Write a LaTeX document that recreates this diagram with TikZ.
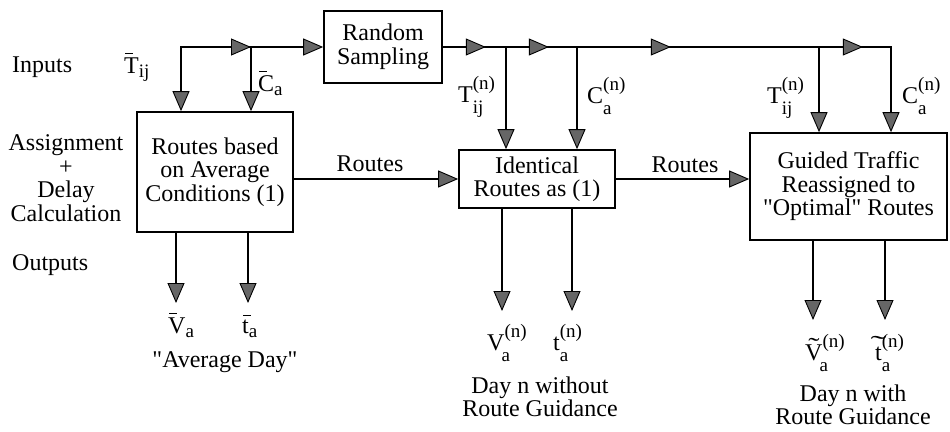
\documentclass[tikz,border=0pt]{standalone}
\usepackage{fontspec}
\setmainfont{Liberation Serif}[Ligatures=TeXOff]
\usepackage{graphicx}
\usetikzlibrary{arrows.meta,decorations.markings}

\newcommand\scr{\fontsize{19}{19}\selectfont}
\newcommand\subsup[4][0pt]{#2{\scr\rlap{\raisebox{13pt}{#4}}\kern#1\raisebox{-11pt}{#3}}}
\newcommand\lowsub[2]{#1{\fontsize{19}{19}\selectfont\raisebox{-4pt}{#2}}}
\newcommand\barover[1]{\setbox0\hbox{#1}\rlap{\kern1pt\raisebox{\dimexpr\ht0+3pt\relax}{\rule{8pt}{1pt}}}\box0}
\newcommand\tildeover[3]{\setbox0\hbox{#3}\rlap{\hbox to\wd0{\hss\raisebox{#1}{\scalebox{#2}[1]{\char"02DC}}\hss}}\box0}

\tikzset{
  arr/.tip={Triangle[length=20pt,width=17pt,fill=black!60,line width=0.9pt]},
  conn/.style={line width=1.9pt},
  blk/.style={draw,line width=1.7pt,inner sep=0pt,align=center},
}

\begin{document}
\begin{tikzpicture}[x=1pt,y=-1pt,
  every node/.style={font=\fontsize{24}{23.5}\selectfont,inner sep=0pt}]
\useasboundingbox (0,0) rectangle (950,431);

% boxes
\node[blk,minimum width=118pt,minimum height=72pt] (rs) at (383,47) {Random\\Sampling};
\node[blk,minimum width=156pt,minimum height=120pt] (bx1) at (215,172) {Routes based\\on Average\\Conditions (1)};
\node[blk,minimum width=156pt,minimum height=58pt] (bx2) at (537,179) {Identical\\Routes as (1)};
\node[blk,minimum width=197pt,minimum height=107pt] (bx3) at (848.5,186.5) {Guided Traffic\\Reassigned to\\"Optimal" Routes};

% left labels
\node[anchor=base west] (inp) at (12,72) {Inputs};
\node[align=center] (asg) at (66,178) {Assignment\\+\\Delay\\Calculation};
\node[anchor=base west] (outp) at (12,270) {Outputs};

% input labels
\node[anchor=base west] (tbar) at (124,73) {\lowsub{\barover{T}}{ij}};
\node[anchor=base west] (cbar) at (258,91) {\lowsub{\barover{C}}{a}};
\node[anchor=base west] (tn2) at (458,102) {\subsup{T}{ij}{(n)}};
\node[anchor=base west] (cn2) at (587,103) {\subsup{C}{a}{(n)}};
\node[anchor=base west] (tn3) at (767,103) {\subsup{T}{ij}{(n)}};
\node[anchor=base west] (cn3) at (902,103) {\subsup{C}{a}{(n)}};

% output labels
\node[anchor=base west] (vbar) at (168,333) {\lowsub{\barover{V}}{a}};
\node[anchor=base west] (tbar2) at (242,333) {\lowsub{\barover{t}}{a}};
\node[anchor=base] (avg) at (225,367) {"Average Day"};
\node[anchor=base west] (vn) at (487,350) {\subsup[-3pt]{V}{a}{(n)}};
\node[anchor=base west] (tn) at (553,350) {\subsup{t}{a}{(n)}};
\node[align=center] (d1) at (540,397) {Day n without\\Route Guidance};
\node[anchor=base west] (vt) at (805,360) {\subsup[-3pt]{\tildeover{6pt}{1.4}{V}}{a}{(n)}};
\node[anchor=base west] (tt) at (875,360) {\subsup{\tildeover{8pt}{2}{t}}{a}{(n)}};
\node[align=center] (d2) at (853,405) {Day n with\\Route Guidance};

% top-left junctions
\coordinate (jT) at (181,47);
\coordinate (jC) at (251,47);
\draw[conn,-arr] (jC) -- (jT) -- (jT |- bx1.north);
\draw[conn,-arr] (jT) -- (jC);
\draw[conn,-arr] (jC) -- (jC |- bx1.north);
\draw[conn,-arr] (jC) -- (rs.west);

% top-right line
\coordinate (k1) at (506,47);
\coordinate (k2) at (577,47);
\coordinate (k3) at (819,47);
\coordinate (k4) at (891,47);
\draw[conn,-arr,postaction={decorate},decoration={markings,
  mark=at position 43pt with {\arrow{arr}},
  mark=at position 106pt with {\arrow{arr}},
  mark=at position 228pt with {\arrow{arr}},
  mark=at position 420pt with {\arrow{arr}}}]
  (rs.east) -- (k4) -- (k4 |- bx3.north);
\draw[conn,-arr] (k1) -- (k1 |- bx2.north);
\draw[conn,-arr] (k2) -- (k2 |- bx2.north);
\draw[conn,-arr] (k3) -- (k3 |- bx3.north);

% routes
\draw[conn,-arr] (bx1.east |- bx2.west) -- (bx2.west);
\node[anchor=base] (r1) at (370,171) {Routes};
\draw[conn,-arr] (bx2.east) -- (bx2.east -| bx3.west);
\node[anchor=base] (r2) at (685,172) {Routes};

% outputs
\coordinate (o1) at (176,303);
\coordinate (o2) at (248,303);
\coordinate (o3) at (502,311);
\coordinate (o4) at (572,311);
\coordinate (o5) at (813,320);
\coordinate (o6) at (885,320);
\draw[conn,-arr] (o1 |- bx1.south) -- (o1);
\draw[conn,-arr] (o2 |- bx1.south) -- (o2);
\draw[conn,-arr] (o3 |- bx2.south) -- (o3);
\draw[conn,-arr] (o4 |- bx2.south) -- (o4);
\draw[conn,-arr] (o5 |- bx3.south) -- (o5);
\draw[conn,-arr] (o6 |- bx3.south) -- (o6);
\end{tikzpicture}
\end{document}
